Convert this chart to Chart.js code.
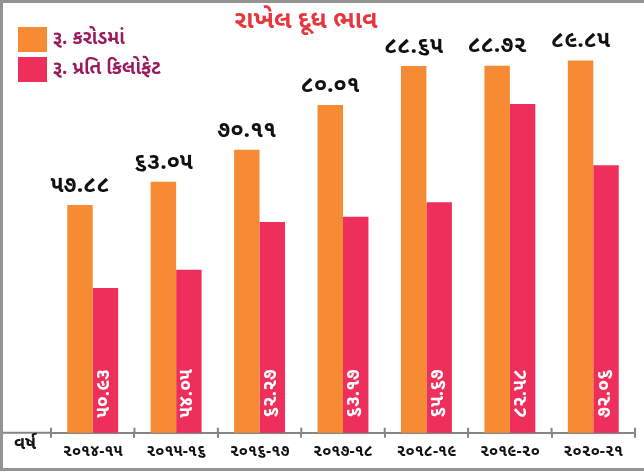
<!DOCTYPE html>
<html>
<head>
<meta charset="utf-8">
<script src="https://cdn.jsdelivr.net/npm/chart.js@4/dist/chart.umd.min.js"></script>
<style>
  body { margin: 0; background: #fff; }
  #wrap { width: 644px; height: 474px; }
</style>
</head>
<body>
<div id="wrap"><canvas id="chart" width="644" height="474"></canvas></div>
<script>
// years (Gujarati digits)
const years = ['૨૦૧૪-૧૫', '૨૦૧૫-૧૬', '૨૦૧૬-૧૭', '૨૦૧૭-૧૮', '૨૦૧૮-૧૯', '૨૦૧૯-૨૦', '૨૦૨૦-૨૧'];
// Rs. crore
const croreValues = [57.88, 63.05, 70.11, 80.01, 88.65, 88.72, 89.85];
// Rs. per kg fat
const perKgFatValues = [50.93, 54.05, 62.27, 63.17, 65.67, 82.58, 72.06];

const seriesNames = ['રૂ. કરોડમાં', 'રૂ. પ્રતિ કિલોફેટ'];
const chartTitle = 'રાખેલ દૂધ ભાવ';
const axisName = 'વર્ષ';

const ORANGE = '#f68b34';
const PINK = '#ee2f5b';
const FONT = "'Noto Sans Gujarati', 'Lohit Gujarati', 'Noto Sans', sans-serif";

const gujDigits = '૦૧૨૩૪૫૬૭૮૯';
const toGuj = s => String(s).replace(/\d/g, d => gujDigits[d]);

// frame, title, legend, axis extension, value labels
const decor = {
  id: 'decor',
  beforeDraw(chart) {
    const ctx = chart.ctx;
    ctx.save();
    ctx.fillStyle = '#fff';
    ctx.fillRect(0, 0, chart.width, chart.height);
    ctx.restore();
  },
  afterDraw(chart) {
    const ctx = chart.ctx;
    const area = chart.chartArea;
    const xs = chart.scales.x;
    ctx.save();

    // gray frame (top, left, bottom)
    ctx.fillStyle = '#939393';
    ctx.fillRect(0, 0, chart.width, 3);
    ctx.fillRect(0, 0, 3, 471);
    ctx.fillRect(0, 468, chart.width, 3);

    // axis line running to the left edge + tick marks above axis
    ctx.strokeStyle = '#858585';
    ctx.lineWidth = 2;
    ctx.beginPath();
    ctx.moveTo(3, area.bottom);
    ctx.lineTo(area.left, area.bottom);
    for (let i = 0; i <= years.length; i++) {
      let x;
      if (i === 0) x = area.left;
      else if (i === years.length) x = area.right;
      else x = (xs.getPixelForValue(i - 1) + xs.getPixelForValue(i)) / 2;
      ctx.moveTo(x, area.bottom - 5);
      ctx.lineTo(x, area.bottom);
    }
    ctx.stroke();

    // axis name
    ctx.fillStyle = '#111';
    ctx.font = 'bold 18px ' + FONT;
    ctx.textAlign = 'left';
    ctx.textBaseline = 'middle';
    ctx.fillText(axisName, 14, 446);

    // title
    ctx.fillStyle = '#e8353e';
    ctx.font = 'bold 25px ' + FONT;
    ctx.textAlign = 'center';
    ctx.fillText(chartTitle, 306, 23);

    // legend
    const colors = [ORANGE, PINK];
    for (let i = 0; i < 2; i++) {
      const y = 27 + i * 30;
      ctx.fillStyle = colors[i];
      ctx.fillRect(18, y, 29, 25);
      ctx.fillStyle = '#9b1a5c';
      ctx.font = 'bold 19px ' + FONT;
      ctx.textAlign = 'left';
      ctx.fillText(seriesNames[i], 53, y + 13);
    }

    // orange labels above bars
    chart.getDatasetMeta(0).data.forEach((bar, i) => {
      ctx.fillStyle = '#111';
      ctx.font = 'bold 23px ' + FONT;
      ctx.textAlign = 'center';
      ctx.textBaseline = 'bottom';
      ctx.fillText(toGuj(croreValues[i].toFixed(2)), bar.x, bar.y - 6);
    });

    // pink labels rotated inside bars
    chart.getDatasetMeta(1).data.forEach((bar, i) => {
      ctx.save();
      ctx.translate(bar.x, area.bottom - 15);
      ctx.rotate(-Math.PI / 2);
      ctx.fillStyle = '#fff';
      ctx.font = 'bold 19px ' + FONT;
      ctx.textAlign = 'left';
      ctx.textBaseline = 'middle';
      ctx.fillText(toGuj(perKgFatValues[i].toFixed(2)), 0, 0);
      ctx.restore();
    });

    ctx.restore();
  }
};

new Chart(document.getElementById('chart'), {
  type: 'bar',
  data: {
    labels: years,
    datasets: [
      {
        label: seriesNames[0],
        data: croreValues,
        backgroundColor: ORANGE,
        yAxisID: 'y',
        categoryPercentage: 0.61,
        barPercentage: 1
      },
      {
        label: seriesNames[1],
        data: perKgFatValues,
        backgroundColor: PINK,
        yAxisID: 'y1',
        categoryPercentage: 0.61,
        barPercentage: 1
      }
    ]
  },
  options: {
    responsive: false,
    animation: false,
    layout: { padding: { top: 40, left: 51, right: 9, bottom: 5 } },
    plugins: {
      legend: { display: false },
      tooltip: { enabled: false }
    },
    scales: {
      x: {
        grid: {
          display: true,
          drawOnChartArea: false,
          tickLength: 5,
          color: '#858585',
          lineWidth: 2
        },
        border: { color: '#858585', width: 2 },
        ticks: {
          color: '#111',
          padding: 6,
          font: { family: FONT, size: 16, weight: 'bold' }
        }
      },
      y: { display: false, min: 7.5, max: 94.4 },
      y1: { display: false, min: 26, max: 93.6 }
    }
  },
  plugins: [decor]
});
</script>
</body>
</html>
